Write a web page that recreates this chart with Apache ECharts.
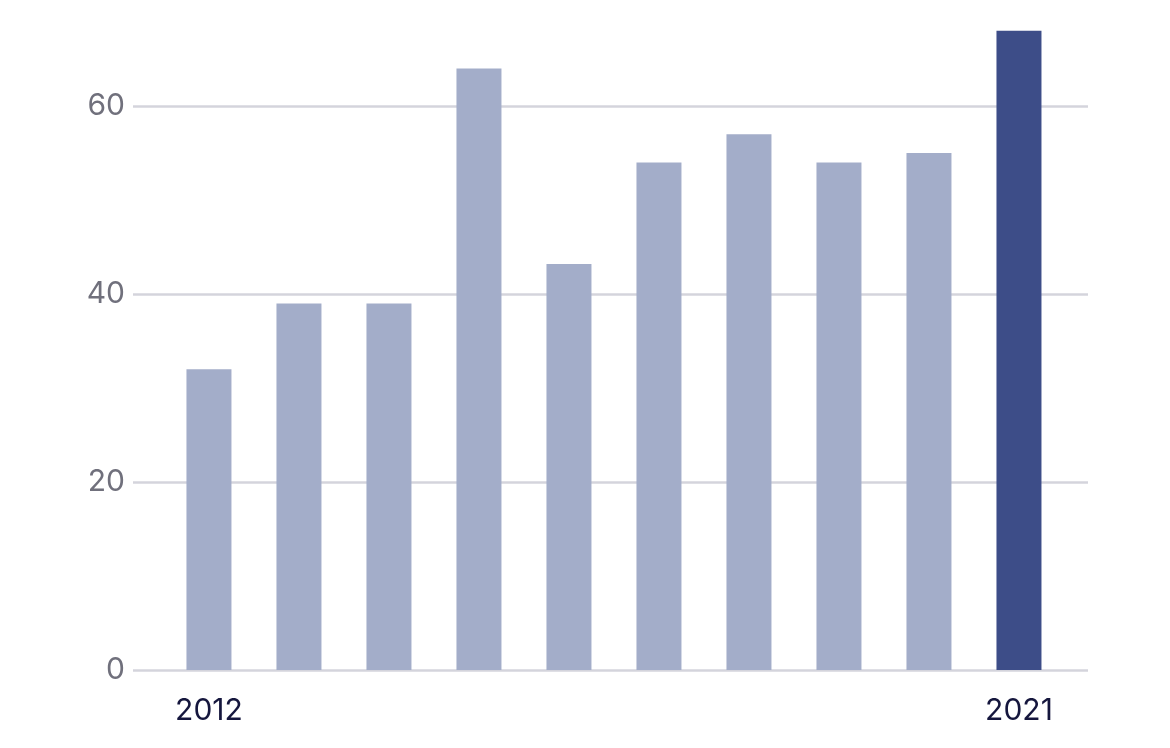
<!DOCTYPE html>
<html>
<head>
<meta charset="utf-8">
<style>
  html, body { margin: 0; padding: 0; background: #ffffff; }
  #chart { width: 1170px; height: 748px; }
</style>
<script src="https://cdn.jsdelivr.net/npm/echarts@6/dist/echarts.min.js"></script>
</head>
<body>
<div id="chart"></div>
<script>
const years = [2012, 2013, 2014, 2015, 2016, 2017, 2018, 2019, 2020, 2021];
const values = [32, 39, 39, 64, 43.2, 54, 57, 54, 55, 68];
const xTickLabels = [2012, 2021];
const yTickLabels = [0, 20, 40, 60];
const highlightYear = 2021;

const chart = echarts.init(document.getElementById('chart'), null, { renderer: 'canvas' });
const gridColor = '#d4d4dc';
const clear = 'rgba(0,0,0,0)';
chart.setOption({
  animation: false,
  grid: { left: 133, right: 82, top: 12, bottom: 78, containLabel: false },
  xAxis: {
    type: 'value',
    min: 2011.156,
    max: 2021.767,
    axisLine: { show: false },
    axisTick: { show: false },
    splitLine: { show: false },
    axisLabel: {
      customValues: xTickLabels,
      formatter: v => String(v),
      color: '#15163d',
      fontFamily: 'Inter',
      fontSize: 30,
      margin: 26
    }
  },
  yAxis: {
    type: 'value',
    min: 0,
    max: 70,
    interval: 10,
    axisLine: { show: false },
    axisTick: { show: false },
    axisLabel: {
      customValues: yTickLabels,
      color: '#70707c',
      fontFamily: 'Inter',
      fontSize: 30,
      margin: 8
    },
    splitLine: {
      show: true,
      lineStyle: {
        width: 2.5,
        color: [gridColor, clear, gridColor, clear, gridColor, clear, gridColor, clear]
      }
    }
  },
  series: [{
    type: 'bar',
    barWidth: 45,
    data: years.map((y, i) => [y, values[i]]),
    itemStyle: {
      color: p => (p.value[0] === highlightYear ? '#3d4d88' : '#a3adc9')
    }
  }]
});
</script>
</body>
</html>
